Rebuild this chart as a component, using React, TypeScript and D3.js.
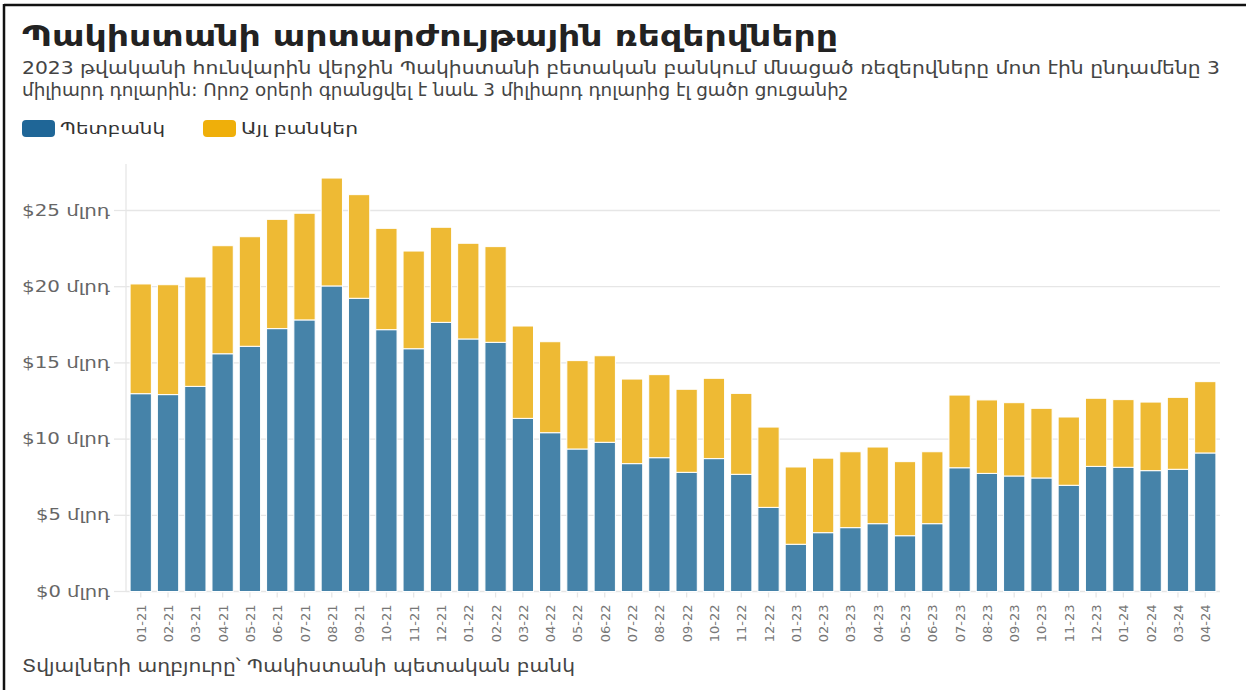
import React, { useEffect, useRef } from "react";
import * as d3 from "d3";

const months = [
  "01-21","02-21","03-21","04-21","05-21","06-21","07-21","08-21","09-21","10-21","11-21","12-21",
  "01-22","02-22","03-22","04-22","05-22","06-22","07-22","08-22","09-22","10-22","11-22","12-22",
  "01-23","02-23","03-23","04-23","05-23","06-23","07-23","08-23","09-23","10-23","11-23","12-23",
  "01-24","02-24","03-24","04-24",
];

// State Bank of Pakistan reserves (bn USD)
const stateBank = [
  12.98, 12.92, 13.46, 15.6, 16.09, 17.25, 17.82, 20.05, 19.24, 17.18, 15.93, 17.66,
  16.57, 16.35, 11.36, 10.42, 9.35, 9.79, 8.39, 8.78, 7.82, 8.72, 7.69, 5.52,
  3.1, 3.86, 4.19, 4.45, 3.66, 4.45, 8.12, 7.75, 7.58, 7.45, 6.97, 8.21,
  8.15, 7.93, 8.02, 9.09,
];

// Total reserves (bn USD)
const totals = [
  20.18, 20.13, 20.64, 22.69, 23.28, 24.42, 24.82, 27.13, 26.04, 23.83, 22.34, 23.9,
  22.85, 22.63, 17.42, 16.39, 15.15, 15.47, 13.94, 14.23, 13.27, 13.99, 13.0, 10.79,
  8.17, 8.75, 9.17, 9.48, 8.52, 9.17, 12.89, 12.57, 12.39, 12.02, 11.45, 12.68,
  12.59, 12.43, 12.74, 13.77,
];

const otherBanks = totals.map((t, i) => +(t - stateBank[i]).toFixed(2));

const yTicks = [0, 5, 10, 15, 20, 25];
const seriesNames = ["Պետբանկ", "Այլ բանկեր"];

const title = "Պակիստանի արտարժույթային ռեզերվները";
const subtitle1 =
  "2023 թվականի հունվարին վերջին Պակիստանի բետական բանկում մնացած ռեզերվները մոտ էին ընդամենը 3";
const subtitle2 =
  "միլիարդ դոլարին: Որոշ օրերի գրանցվել է նաև 3 միլիարդ դոլարից էլ ցածր ցուցանիշ";
const source = "Տվյալների աղբյուրը՝ Պակիստանի պետական բանկ";

const W = 1246;
const H = 690;
const FONT = "'DejaVu Sans', sans-serif";

export default function App() {
  const ref = useRef<SVGSVGElement | null>(null);

  useEffect(() => {
    const svg = d3.select(ref.current);
    svg.selectAll("*").remove();

    const left = 126, right = 1220, top = 164, bottom = 591.5;

    const x = d3.scaleBand<string>().domain(months).range([left, right]).paddingInner(0.22).paddingOuter(0.15);
    const y = d3.scaleLinear().domain([0, 28]).range([bottom, bottom - 28 * 15.24]);

    // border
    svg.append("line").attr("x1", 4).attr("x2", W).attr("y1", 5).attr("y2", 5).attr("stroke", "#111").attr("stroke-width", 2.5);
    svg.append("line").attr("x1", 4).attr("x2", 4).attr("y1", 4).attr("y2", H).attr("stroke", "#111").attr("stroke-width", 2.5);

    const txt = (xx: number, yy: number, s: string, size: number, fill: string, len?: number) => {
      const t = svg.append("text").attr("x", xx).attr("y", yy).text(s)
        .attr("font-family", FONT).attr("font-size", size).attr("fill", fill);
      if (len) t.attr("textLength", len).attr("lengthAdjust", "spacingAndGlyphs");
      return t;
    };

    // title
    txt(22, 46, title, 28, "#222", 816).attr("font-weight", "bold");
    txt(22, 74, subtitle1, 17, "#444", 1198);
    txt(22, 96, subtitle2, 17, "#444", 826);

    // legend
    const legendColors = ["#1f6697", "#efaf0a"];
    const legendX = [22, 203];
    const legendLen = [105, 117];
    seriesNames.forEach((n, i) => {
      svg.append("rect").attr("x", legendX[i]).attr("y", 120).attr("width", 33).attr("height", 17).attr("rx", 4)
        .attr("fill", legendColors[i]);
      txt(legendX[i] + 38, 134, n, 16, "#333", legendLen[i]);
    });

    // grid
    const g = svg.append("g");
    yTicks.forEach((t) => {
      g.append("line").attr("x1", left).attr("x2", right).attr("y1", y(t)).attr("y2", y(t))
        .attr("stroke", "#e6e6e6").attr("stroke-width", 1.3);
      g.append("line").attr("x1", 114).attr("x2", left).attr("y1", y(t)).attr("y2", y(t))
        .attr("stroke", "#e6e6e6").attr("stroke-width", 1.3);
      g.append("text").attr("x", 110).attr("y", y(t) + 5).attr("text-anchor", "end")
        .text(`$${t} մլրդ`).attr("font-family", FONT).attr("font-size", 15).attr("fill", "#666")
        .attr("textLength", t >= 10 ? 88 : 74).attr("lengthAdjust", "spacingAndGlyphs");
    });
    g.append("line").attr("x1", left).attr("x2", left).attr("y1", top).attr("y2", bottom)
      .attr("stroke", "#e6e6e6").attr("stroke-width", 1.3);

    // bars
    const stack = d3.stack<number>().keys(["s", "o"])
      .value((i, k) => (k === "s" ? stateBank[i] : otherBanks[i]));
    const series = stack(months.map((_, i) => i));
    const barColors = ["#4683a9", "#eeba34"];
    series.forEach((s, si) => {
      g.append("g").selectAll("rect").data(s).join("rect")
        .attr("x", (d) => x(months[d.data])!)
        .attr("width", x.bandwidth())
        .attr("y", (d) => y(d[1]))
        .attr("height", (d) => y(d[0]) - y(d[1]))
        .attr("fill", barColors[si])
        .attr("stroke", "#fff")
        .attr("stroke-width", 1);
    });

    // x ticks + labels
    months.forEach((m) => {
      const cx = x(m)! + x.bandwidth() / 2;
      g.append("line").attr("x1", cx).attr("x2", cx).attr("y1", bottom + 1).attr("y2", bottom + 6)
        .attr("stroke", "#e6e6e6").attr("stroke-width", 1.3);
      g.append("text").attr("transform", `translate(${cx + 5},${bottom + 13}) rotate(-90)`)
        .attr("text-anchor", "end").text(m)
        .attr("font-family", FONT).attr("font-size", 13).attr("fill", "#777");
    });

    txt(22, 672, source, 17, "#444", 553);
  }, []);

  return (
    <svg ref={ref} width={W} height={H}
      style={{ position: "absolute", left: 0, top: 0, background: "#fff" }} />
  );
}
